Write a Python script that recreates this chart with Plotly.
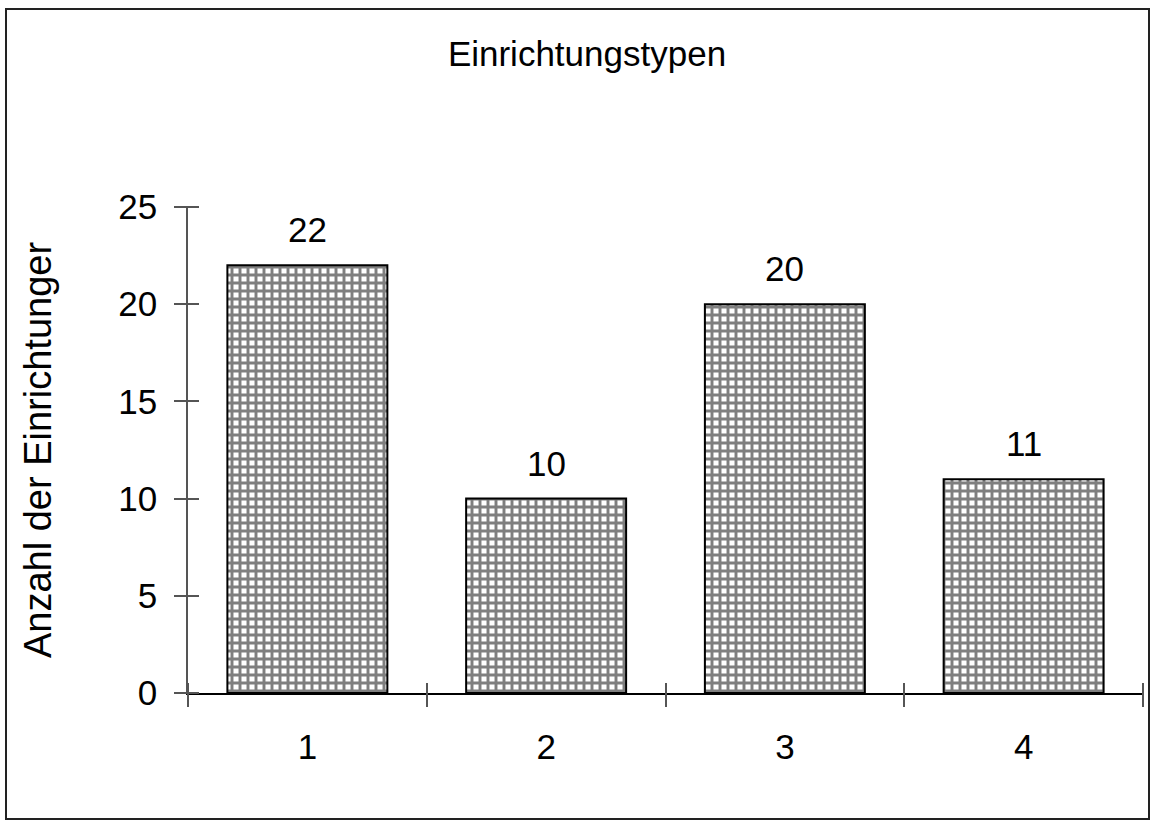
import plotly.graph_objects as go

categories = ["1", "2", "3", "4"]
values = [22, 10, 20, 11]
y_ticks = [0, 5, 10, 15, 20, 25]
title_text = "Einrichtungstypen"
y_title = "Anzahl der Einrichtunger"

W, H = 1150, 820
L, R, T, B = 188, 7, 207, 127
font = "Liberation Sans, Arial, sans-serif"
pw = W - L - R
ph = H - T - B
tick_in = 11  # length of tick part inside the plot

fig = go.Figure()
fig.add_trace(go.Bar(
    x=categories, y=values, width=0.67,
    marker=dict(color="white", line=dict(color="black", width=2),
                pattern=dict(shape="+", size=8, solidity=0.6, fgcolor="black", bgcolor="white")),
    showlegend=False, hoverinfo="skip",
))
# invisible trace driving the secondary (crossing-tick) axes
fig.add_trace(go.Scatter(x=categories, y=values, xaxis="x2", yaxis="y2", mode="markers",
                         marker=dict(opacity=0), showlegend=False, hoverinfo="skip"))

for i, v in enumerate(values):
    fig.add_annotation(x=i, y=v, text=str(v), showarrow=False, yanchor="bottom", yshift=14,
                       font=dict(size=35, color="black", family=font))

fig.add_shape(type="rect", xref="paper", yref="paper",
              x0=(6 - L) / pw, x1=(1149 - L) / pw,
              y0=(H - B - 819) / ph, y1=(H - B - 9) / ph,
              line=dict(color="#222", width=2), fillcolor="rgba(0,0,0,0)", layer="below")

axis_common = dict(range=[0, 25], tickvals=y_ticks)
fig.update_layout(
    width=W, height=H,
    margin=dict(l=L, r=R, t=T, b=B),
    paper_bgcolor="white", plot_bgcolor="white",
    font=dict(family=font, color="black"),
    title=dict(text=title_text, x=587 / W, xanchor="center", xref="container",
               y=1 - 54 / H, yanchor="middle", yref="container",
               font=dict(size=35, family=font, color="black")),
    xaxis=dict(type="category", tickson="boundaries", ticks="outside", ticklen=12,
               tickcolor="#555", tickwidth=1.5, showline=True, linecolor="black", linewidth=1.5,
               showgrid=False, tickfont=dict(size=35), ticklabelstandoff=22, zeroline=False,
               range=[-0.5, 3.5]),
    yaxis=dict(**axis_common, ticks="outside", ticklen=12, tickcolor="#555", tickwidth=1.5,
               showline=True, linecolor="#555", linewidth=1.5, showgrid=False, zeroline=False,
               tickfont=dict(size=35), ticklabelstandoff=10,
               title=dict(text=y_title, font=dict(size=38), standoff=55)),
    xaxis2=dict(type="category", overlaying="x", anchor="free", position=tick_in / ph,
                side="bottom", tickson="boundaries", ticks="outside", ticklen=12 + tick_in,
                tickcolor="#555", tickwidth=1.5, showticklabels=False, showgrid=False,
                zeroline=False, showline=False, range=[-0.5, 3.5]),
    yaxis2=dict(**axis_common, overlaying="y", side="left", anchor="free", position=tick_in / pw,
                ticks="outside", ticklen=12 + tick_in, tickcolor="#555", tickwidth=1.5,
                showticklabels=False, showgrid=False, zeroline=False, showline=False),
)

fig.write_html("out.html", post_script="document.body.style.margin='0';",
               config={"displayModeBar": False})
